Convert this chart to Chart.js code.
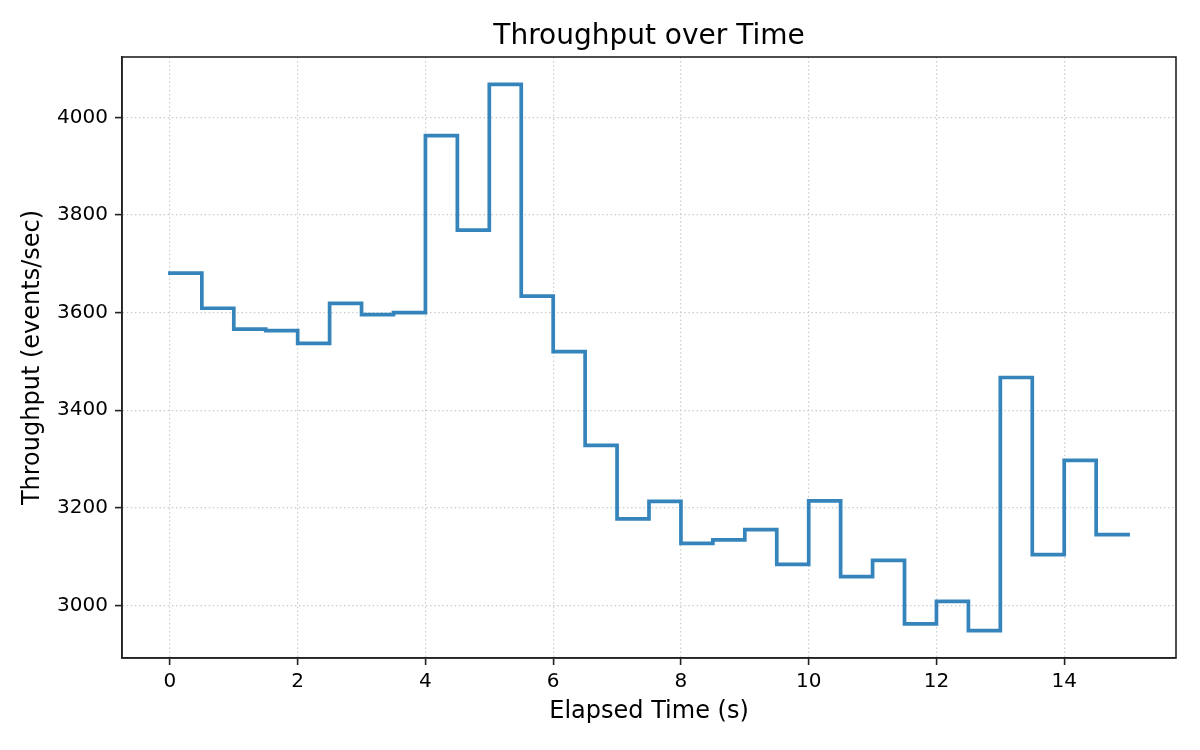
<!DOCTYPE html>
<html>
<head>
<meta charset="utf-8">
<script src="https://cdn.jsdelivr.net/npm/chart.js@4"></script>
<style>
  html, body { margin: 0; padding: 0; background: #fff; }
  #wrap { width: 1200px; height: 750px; }
</style>
</head>
<body>
<div id="wrap"><canvas id="throughputChart" width="1200" height="750"></canvas></div>
<script>
// data
var elapsed = [0, 0.5, 1, 1.5, 2, 2.5, 3, 3.5, 4, 4.5, 5, 5.5, 6, 6.5, 7, 7.5,
               8, 8.5, 9, 9.5, 10, 10.5, 11, 11.5, 12, 12.5, 13, 13.5, 14, 14.5, 15];
var throughput = [3681, 3609, 3566, 3563, 3537, 3619, 3596, 3600, 3963, 3769,
                  4068, 3634, 3520, 3328, 3177, 3213, 3127, 3134, 3155, 3084,
                  3214, 3059, 3092, 2962, 3008, 2948, 3467, 3104, 3297, 3145, 3145];
var xTicks = [0, 2, 4, 6, 8, 10, 12, 14];
var yTicks = [3000, 3200, 3400, 3600, 3800, 4000];

var points = [];
for (i = 0; i < elapsed.length; i++) {
    points.push({ x: elapsed[i], y: throughput[i] });
}

var FONT = "'DejaVu Sans', sans-serif";
var INK = '#222222';

// draws the top and right sides of the axes box
var frameBox = {
    id: 'frameBox',
    afterDraw: function (chart) {
        var a = chart.chartArea, ctx = chart.ctx;
        ctx.save();
        ctx.strokeStyle = INK;
        ctx.lineWidth = 1.6;
        ctx.strokeRect(a.left, a.top, a.right - a.left, a.bottom - a.top);
        ctx.restore();
    }
};

var ctx = document.getElementById("throughputChart").getContext('2d');
var chart = new Chart(ctx, {
    type: 'line',
    data: {
        datasets: [{
            data: points,
            stepped: 'before',
            borderColor: 'rgba(31, 119, 180, 0.9)',
            borderWidth: 3.7,
            borderCapStyle: 'square',
            borderJoinStyle: 'miter',
            pointRadius: 0,
            fill: false
        }]
    },
    options: {
        responsive: false,
        devicePixelRatio: 1,
        animation: false,
        layout: { padding: { left: 0, right: 24, top: 0, bottom: 0 } },
        plugins: {
            legend: { display: false },
            tooltip: { enabled: false },
            title: {
                display: true,
                fullSize: false,
                text: 'Throughput over Time',
                color: '#000',
                font: { family: FONT, size: 28, weight: 'normal', lineHeight: 1.2 },
                padding: { top: 20, bottom: 3.4 }
            }
        },
        scales: {
            x: {
                type: 'linear',
                min: -0.75,
                max: 15.75,
                afterBuildTicks: function (scale) {
                    scale.ticks = xTicks.map(function (v) { return { value: v }; });
                },
                afterFit: function (scale) { scale.height = 92; },
                ticks: {
                    color: '#000',
                    padding: 5,
                    maxRotation: 0,
                    font: { family: FONT, size: 20 },
                    callback: function (v) { return String(v); }
                },
                grid: {
                    color: '#cccccc',
                    lineWidth: 1.2,
                    tickColor: INK,
                    tickLength: 7,
                    tickWidth: 1.6,
                    tickBorderDash: []
                },
                border: { display: true, color: INK, width: 1.6, dash: [1.5, 2.6] },
                title: {
                    display: true,
                    text: 'Elapsed Time (s)',
                    color: '#000',
                    font: { family: FONT, size: 24, lineHeight: 1.2 },
                    padding: { top: 0, bottom: 24 }
                }
            },
            y: {
                min: 2892,
                max: 4124,
                afterBuildTicks: function (scale) {
                    scale.ticks = yTicks.map(function (v) { return { value: v }; });
                },
                afterFit: function (scale) { scale.width = 122; },
                ticks: {
                    color: '#000',
                    padding: 7,
                    font: { family: FONT, size: 20 },
                    callback: function (v) { return String(v); }
                },
                grid: {
                    color: '#cccccc',
                    lineWidth: 1.2,
                    tickColor: INK,
                    tickLength: 7,
                    tickWidth: 1.6,
                    tickBorderDash: []
                },
                border: { display: true, color: INK, width: 1.6, dash: [1.5, 2.6] },
                title: {
                    display: true,
                    text: 'Throughput (events/sec)',
                    color: '#000',
                    font: { family: FONT, size: 24, lineHeight: 1.2 },
                    padding: { top: 18, bottom: 0 }
                }
            }
        }
    },
    plugins: [frameBox]
});
</script>
</body>
</html>
